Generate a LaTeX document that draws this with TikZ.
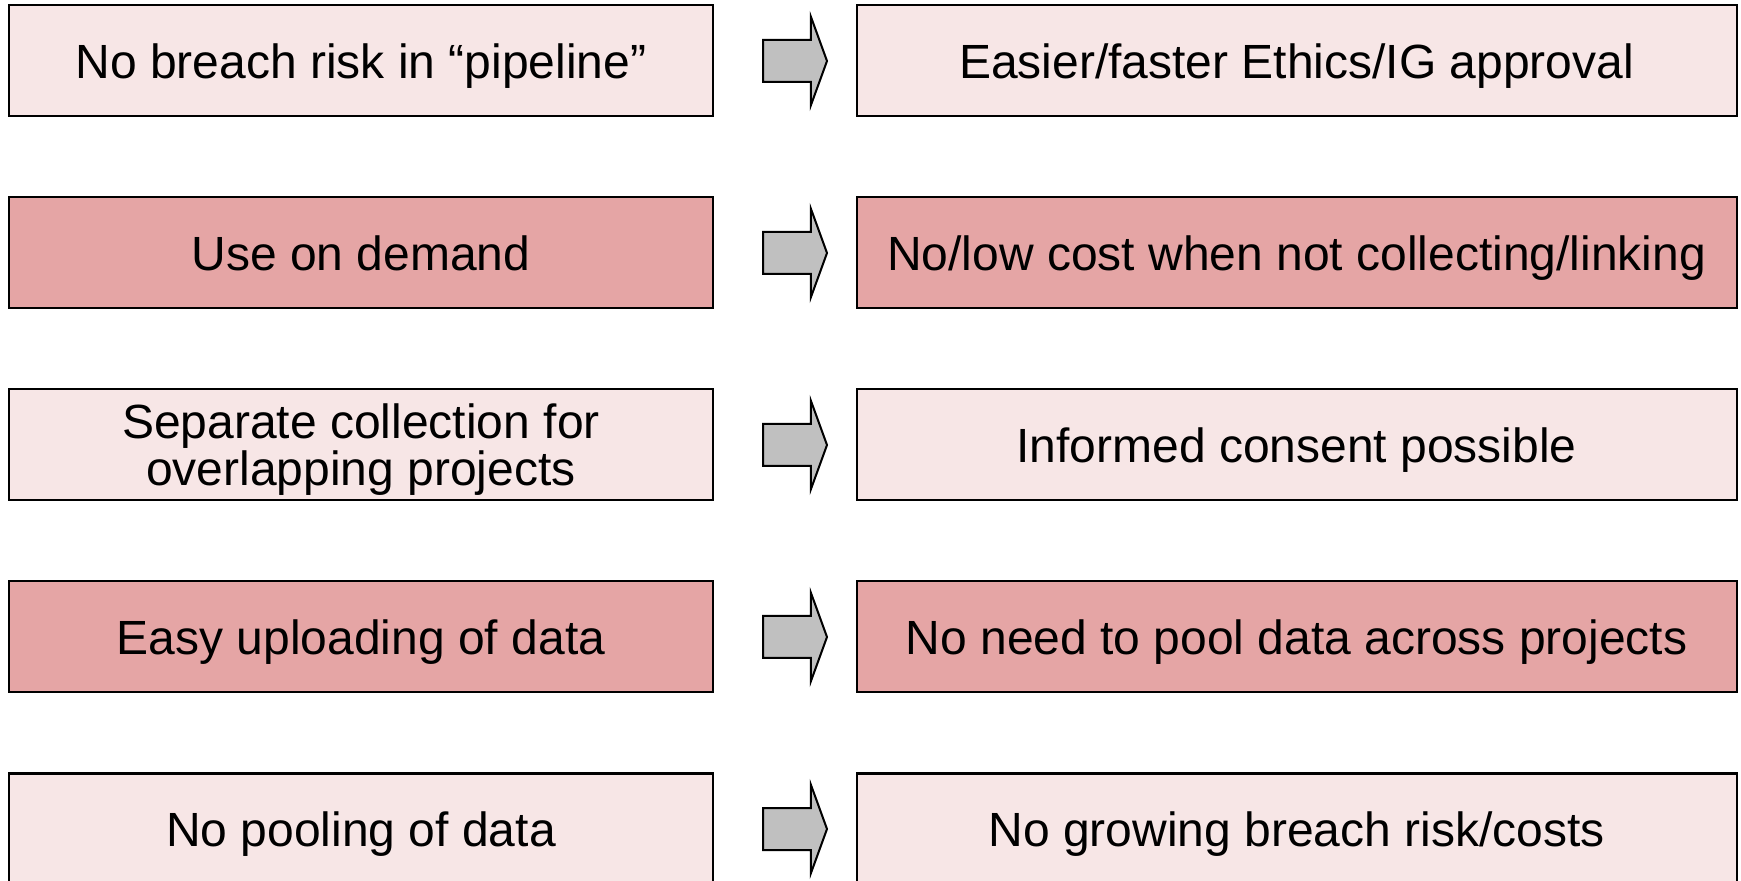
\documentclass[tikz,border=0pt]{standalone}
\usepackage{fontspec}
\setmainfont{Liberation Sans}
\usetikzlibrary{positioning,shapes.arrows}

\definecolor{palepink}{HTML}{F7E6E6}
\definecolor{deeppink}{HTML}{E5A5A5}
\definecolor{arrowgrey}{HTML}{C0C0C0}

\tikzset{
  box/.style={draw=black, line width=1pt, minimum height=55.5pt, inner sep=0pt,
    text depth=0pt, align=center, font=\fontsize{24}{23.5}\selectfont},
  leftbox/.style={box, minimum width=352pt},
  rightbox/.style={box, minimum width=440pt},
  blockarrow/.style={single arrow, draw=black, fill=arrowgrey, line width=1pt,
    minimum height=32pt, inner xsep=0pt, inner ysep=10pt,
    single arrow head extend=11.75pt, single arrow tip angle=140}
}

\begin{document}
\begin{tikzpicture}
  \useasboundingbox (0,0) rectangle (870.5pt,-440.5pt);
  \clip (0,0) rectangle (870.5pt,-440.5pt);

  % left column
  \node[leftbox, fill=palepink] (l1) at (180.5pt,-30.5pt) {No breach risk in “pipeline”};
  \node[leftbox, fill=deeppink] (l2) at (180.5pt,-126.5pt) {Use on demand};
  \node[leftbox, fill=palepink] (l3) at (180.5pt,-222.5pt) {Separate collection for\\overlapping projects};
  \node[leftbox, fill=deeppink] (l4) at (180.5pt,-318.5pt) {Easy uploading of data};
  \node[leftbox, fill=palepink] (l5) at (180.5pt,-414.5pt) {No pooling of data};

  % right column
  \node[rightbox, fill=palepink] (r1) at (648.3pt,-30.5pt) {Easier/faster Ethics/IG approval};
  \node[rightbox, fill=deeppink] (r2) at (648.3pt,-126.5pt) {No/low cost when not collecting/linking};
  \node[rightbox, fill=palepink] (r3) at (648.3pt,-222.5pt) {Informed consent possible};
  \node[rightbox, fill=deeppink] (r4) at (648.3pt,-318.5pt) {No need to pool data across projects};
  \node[rightbox, fill=palepink] (r5) at (648.3pt,-414.5pt) {No growing breach risk/costs};

  % arrows
  \foreach \i in {1,...,5}
    \node[blockarrow, right=24pt of l\i.east, anchor=west] (a\i) {};
\end{tikzpicture}
\end{document}
